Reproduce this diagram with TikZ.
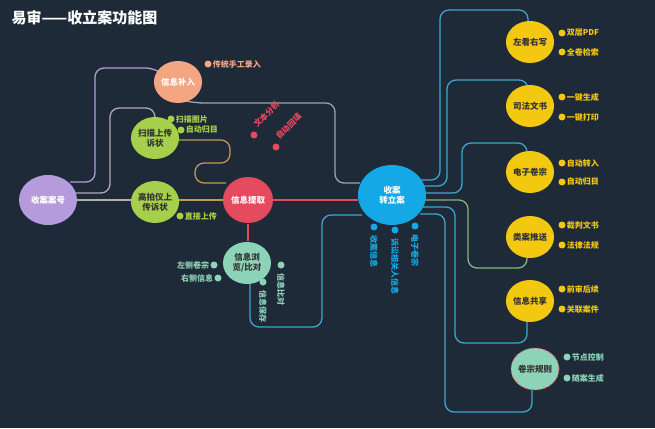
\documentclass[tikz,border=0pt]{standalone}
\usepackage{fontspec}
\usetikzlibrary{shapes.geometric}
\setmainfont{Noto Sans CJK SC}
\definecolor{bg}{HTML}{1F2A38}
\definecolor{cpurple}{HTML}{B59BDB}
\definecolor{corange}{HTML}{F4A582}
\definecolor{cgreen}{HTML}{A6D04B}
\definecolor{cred}{HTML}{E64A5E}
\definecolor{cteal}{HTML}{8DD3B8}
\definecolor{cblue}{HTML}{14A9E6}
\definecolor{cyel}{HTML}{F2C811}
\definecolor{cline}{HTML}{3FA6CF}
\tikzset{
  bubble/.style={ellipse, minimum width=48pt, minimum height=42pt, inner sep=0pt, align=center, font=\bfseries\fontsize{8.5}{10}\selectfont},
  dot/.style={circle, inner sep=0pt, minimum size=7pt},
  tag/.style={font=\bfseries\fontsize{8}{9}\selectfont, inner sep=1pt},
  link/.style={line width=1.3pt, rounded corners=9pt}
}
\begin{document}
\begin{tikzpicture}[x=1pt,y=-1pt]
\fill[bg] (0,0) rectangle (655,428);
\node[anchor=west, text=white, font=\bfseries\fontsize{15}{16}\selectfont] (title) at (8,18) {易审——收立案功能图};

% links, drawn first
\draw[link, cpurple] (70,182) -- (95,182) -- (95,68) -- (155,68) -- (160,72);
\draw[link, cpurple!70!cgreen] (72,193) -- (110,193) -- (110,108) -- (155,108) -- (155,118);
\draw[link, cgreen!60!cred] (176,140) -- (230,140) -- (230,163) -- (195,163) -- (195,183) -- (226,183);
\draw[link, corange!50!cline] (186,101) -- (195,103) -- (335,103) -- (335,183) -- (360,183);
\draw[link, cline] (250,280) -- (250,327) -- (322,327) -- (322,215) -- (362,215);
\draw[line width=1.3pt, cpurple!60!cgreen] (76,200) -- (133,200);
\draw[line width=1.3pt, cgreen!60!cred] (177,200) -- (224,200);
\draw[line width=1.3pt, cred] (272,200) -- (358,200);
\draw[line width=1.3pt, cred] (248,224) -- (248,241);
\draw[link, cline] (420,180) -- (440,180) -- (440,10) -- (528,10) -- (528,22);
\draw[link, cline] (423,186) -- (447,186) -- (447,80) -- (528,80) -- (528,86);
\draw[link, cline] (425,193) -- (462,193) -- (462,143) -- (527,143) -- (527,152);
\draw[link, cline!60!cyel] (425,200) -- (468,200) -- (468,268) -- (527,268) -- (527,257);
\draw[link, cline] (423,207) -- (455,207) -- (455,343) -- (527,343) -- (527,321);
\draw[link, cline] (420,214) -- (445,214) -- (445,412) -- (532,412) -- (532,389);

% main nodes
\node[bubble, fill=cpurple, text=white, minimum width=58pt, minimum height=50pt] (case) at (48,200) {收案案号};
\node[bubble, fill=corange, text=white] (supp) at (178,82) {信息补入};
\node[bubble, fill=cgreen, text=black!80] (scan) at (155,138) {扫描上传\\诉状};
\node[bubble, fill=cgreen, text=black!80] (cam) at (155,202) {高拍仪上\\传诉状};
\node[bubble, fill=cred, text=white, minimum width=50pt, minimum height=46pt] (extr) at (248,200) {信息提取};
\node[bubble, fill=cteal, text=black!80] (view) at (247,263) {信息浏\\览/比对};
\node[bubble, fill=cblue, text=white, minimum width=68pt, minimum height=60pt] (trans) at (392,195) {收案\\转立案};

\foreach \y/\t/\n in {42/左看右写/a, 106/司法文书/b, 172/电子卷宗/c, 237/类案推送/d, 301/信息共享/e}
  \node[bubble, fill=cyel, text=black!80] (\n) at (530,\y) {\t};
\node[bubble, fill=cteal, draw=cred, dashed, thick, text=black!80] (f) at (535,369) {卷宗规则};

% leaf tags on the right
\foreach \y/\t in {33/双层PDF, 52/全卷检索, 97/一键生成, 117/一键打印, 163/自动转入, 182/自动归目, 225/裁判文书, 245/法律法规, 289/前审后续, 309/关联案件}
  \node[dot, fill=cyel, label={[tag, text=cyel]right:\t}] at (562,\y) {};
\foreach \y/\t in {357/节点控制, 378/随案生成}
  \node[dot, fill=cteal, label={[tag, text=cteal]right:\t}] at (567,\y) {};

% leaf tags on the left
\node[dot, fill=corange, label={[tag, text=corange]right:传统手工录入}] (s1) at (208,64) {};
\node[dot, fill=cgreen, label={[tag, text=cgreen]right:扫描图片}] (g1) at (171,119) {};
\node[dot, fill=cgreen, label={[tag, text=cgreen]right:自动归目}] (g2) at (181,130) {};
\node[dot, fill=cgreen, label={[tag, text=cgreen]right:直接上传}] (g3) at (180,216) {};
\node[dot, fill=cred] (r1) at (254,135) {};
\node[tag, text=cred, rotate=45, anchor=south west] at (258,130) {文本分析};
\node[dot, fill=cred] (r2) at (276,147) {};
\node[tag, text=cred, rotate=45, anchor=south west] at (280,142) {自动回填};
\node[dot, fill=cteal, label={[tag, text=cteal]left:左侧卷宗}] (t1) at (214,265) {};
\node[dot, fill=cteal, label={[tag, text=cteal]left:右侧信息}] (t2) at (218,278) {};
\node[dot, fill=cteal] (t3) at (281,265) {};
\node[tag, text=cteal, rotate=-90, anchor=west] at (281,272) {信息比对};
\node[dot, fill=cteal] (t4) at (263,282) {};
\node[tag, text=cteal, rotate=-90, anchor=west] at (263,289) {信息保存};
\node[dot, fill=cblue] (b1) at (374,227) {};
\node[tag, text=cblue, rotate=-90, anchor=west] at (374,234) {收案信息};
\node[dot, fill=cblue] (b2) at (395,230) {};
\node[tag, text=cblue, rotate=-90, anchor=west] at (395,237) {诉讼相关人信息};
\node[dot, fill=cblue] (b3) at (415,226) {};
\node[tag, text=cblue, rotate=-90, anchor=west] at (415,233) {电子卷宗};
\end{tikzpicture}
\end{document}
